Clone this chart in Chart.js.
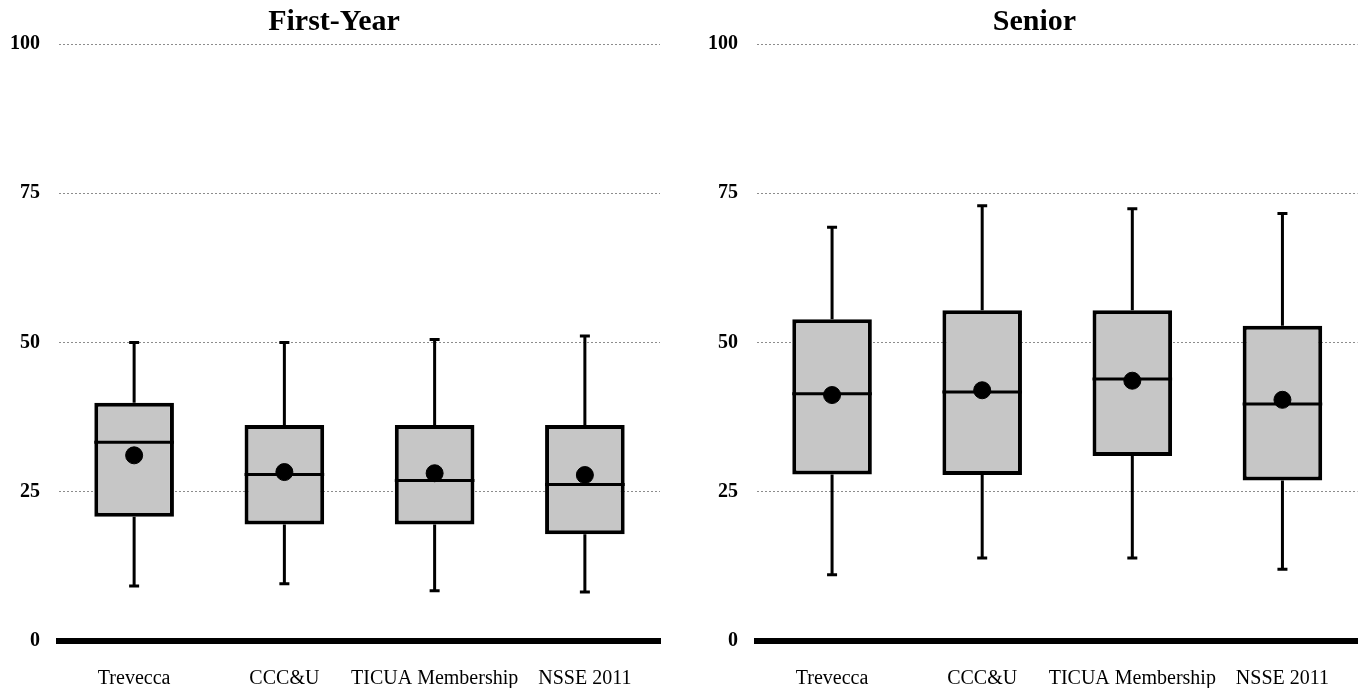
<!DOCTYPE html>
<html>
<head>
<meta charset="utf-8">
<script src="https://cdn.jsdelivr.net/npm/chart.js@4.4.1/dist/chart.umd.min.js"></script>
<style>
  html, body { margin: 0; padding: 0; background: #fff; }
  #wrap { width: 1367px; height: 689px; display: flex; }
  .panel { position: relative; height: 689px; }
  #p1 { width: 683px; }
  #p2 { width: 684px; }
</style>
</head>
<body>
<div id="wrap">
  <div class="panel" id="p1"><canvas id="chart-fy"></canvas></div>
  <div class="panel" id="p2"><canvas id="chart-sr"></canvas></div>
</div>
<script>
// Box plot values
const categories = ['Trevecca', 'CCC&U', 'TICUA Membership', 'NSSE 2011'];
const yTicks = [0, 25, 50, 75, 100];

const fyMin    = [9.2, 9.6, 8.4, 8.2];
const fyQ1     = [20.8, 19.5, 19.5, 17.9];
const fyMedian = [33.3, 27.9, 26.9, 26.2];
const fyQ3     = [39.9, 36.2, 36.2, 36.2];
const fyMax    = [50.0, 50.0, 50.5, 51.1];
const fyMean   = [31.1, 28.3, 28.1, 27.8];

const srMin    = [11.1, 13.9, 13.9, 12.0];
const srQ1     = [27.9, 27.8, 31.0, 26.9];
const srMedian = [41.4, 41.7, 43.9, 39.7];
const srQ3     = [53.9, 55.4, 55.4, 52.8];
const srMax    = [69.3, 72.9, 72.4, 71.6];
const srMean   = [41.2, 42.0, 43.6, 40.4];

const SERIF = '"Liberation Serif", "Times New Roman", serif';

// whiskers behind the boxes, median on top of the box (under the mean dot)
const boxExtras = {
    id: 'boxExtras',
    beforeDatasetsDraw(chart, args, opts) {
        const ctx = chart.ctx, x = chart.scales.x, y = chart.scales.y;
        ctx.save();
        ctx.strokeStyle = '#000';
        ctx.lineWidth = 3;
        opts.min.forEach((v, i) => {
            const cx = x.getPixelForValue(i);
            const cap = 5;
            [[opts.q3[i], opts.max[i]], [opts.q1[i], opts.min[i]]].forEach(([a, b]) => {
                ctx.beginPath();
                ctx.moveTo(cx, y.getPixelForValue(a));
                ctx.lineTo(cx, y.getPixelForValue(b));
                ctx.moveTo(cx - cap, y.getPixelForValue(b));
                ctx.lineTo(cx + cap, y.getPixelForValue(b));
                ctx.stroke();
            });
        });
        ctx.restore();
    },
    afterDatasetDraw(chart, args, opts) {
        if (args.index !== 0) return;
        const ctx = chart.ctx, y = chart.scales.y;
        const bars = chart.getDatasetMeta(0).data;
        ctx.save();
        ctx.strokeStyle = '#000';
        ctx.lineWidth = 3;
        opts.median.forEach((v, i) => {
            const b = bars[i];
            const py = y.getPixelForValue(v);
            ctx.beginPath();
            ctx.moveTo(b.x - b.width / 2, py);
            ctx.lineTo(b.x + b.width / 2, py);
            ctx.stroke();
        });
        ctx.restore();
    }
};

function makeChart(id, title, mn, q1, med, q3, mx, mean, pad) {
    new Chart(document.getElementById(id), {
        type: 'bar',
        data: {
            labels: categories,
            datasets: [
                {
                    type: 'bar',
                    order: 1,
                    data: q1.map((v, i) => [v, q3[i]]),
                    backgroundColor: '#c6c6c6',
                    borderColor: '#000',
                    borderWidth: 4,
                    borderSkipped: false,
                    barPercentage: 0.53,
                    categoryPercentage: 1.0
                },
                {
                    type: 'line',
                    order: 0,
                    data: mean,
                    showLine: false,
                    pointRadius: 8.5,
                    pointBackgroundColor: '#000',
                    pointBorderColor: '#000'
                }
            ]
        },
        options: {
            responsive: true,
            maintainAspectRatio: false,
            animation: false,
            layout: { padding: { left: pad.left, right: pad.right, top: 0, bottom: 1 } },
            plugins: {
                legend: { display: false },
                tooltip: { enabled: false },
                title: {
                    display: true,
                    text: title,
                    color: '#000',
                    font: { family: SERIF, size: 30, weight: 'bold', lineHeight: 1.2 },
                    padding: { top: 4, bottom: 4 }
                },
                boxExtras: { min: mn, q1: q1, median: med, q3: q3, max: mx }
            },
            scales: {
                x: {
                    afterFit: s => { s.height = 47; },
                    grid: { display: false, drawTicks: false },
                    border: { display: true, color: '#000', width: 6 },
                    ticks: {
                        color: '#000', padding: 26, maxRotation: 0, minRotation: 0, autoSkip: false,
                        font: { family: SERIF, size: 20 }
                    }
                },
                y: {
                    min: 0,
                    max: 100,
                    afterFit: s => { s.width = 51; },
                    afterBuildTicks: s => { s.ticks = yTicks.map(v => ({ value: v })); },
                    grid: {
                        drawTicks: false,
                        color: c => c.tick && c.tick.value === 0 ? 'rgba(0,0,0,0)' : '#8c8c8c',
                        lineWidth: 1
                    },
                    border: { display: false, dash: [2, 2] },
                    ticks: { color: '#000', padding: 19, font: { family: SERIF, size: 20, weight: 'bold' } }
                }
            }
        },
        plugins: [boxExtras]
    });
}

makeChart('chart-fy', 'First-Year', fyMin, fyQ1, fyMedian, fyQ3, fyMax, fyMean, { left: 8, right: 23 });
makeChart('chart-sr', 'Senior', srMin, srQ1, srMedian, srQ3, srMax, srMean, { left: 23, right: 4 });
</script>
</body>
</html>
